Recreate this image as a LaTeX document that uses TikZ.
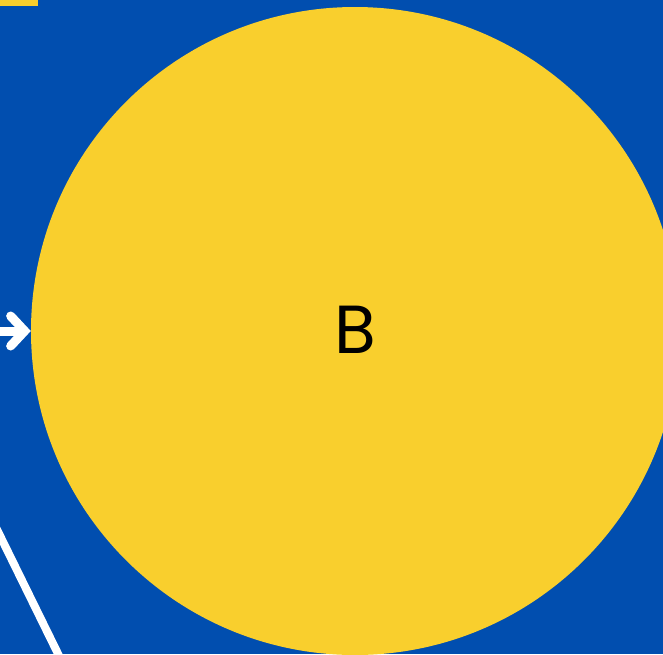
\documentclass[tikz,border=0pt]{standalone}
\usepackage{fontspec}
\setmainfont{Poppins}
\usetikzlibrary{arrows.meta,positioning}
\definecolor{DiagBlue}{HTML}{014EAF}
\definecolor{DiagYellow}{HTML}{F9CF2D}
\begin{document}
\begin{tikzpicture}[
  x=1pt,y=-1pt,
  state/.style={circle,fill=DiagYellow,minimum size=648pt,inner sep=0pt,
    font=\fontsize{68}{68}\selectfont},
  pointer/.style={-{Straight Barb[length=14pt,width=30pt,line cap=round]},
    draw=white,line width=9pt,line cap=round},
  edge/.style={draw=white,line width=8pt}
]
\useasboundingbox (0,0) rectangle (663,654);
\clip (0,0) rectangle (663,654);
\fill[DiagBlue] (0,0) rectangle (663,654);
\fill[DiagYellow] (0,0) rectangle (38,6);
\node[state] (b) at (355,331) {\raisebox{3pt}{B}};
\coordinate (arrowstart) at (-10,331);
\coordinate (linetop) at (-17.5,500);
\coordinate (linebottom) at (66,670);
\draw[pointer] (arrowstart) -- (b.west);
\draw[edge] (linetop) -- (linebottom);
\end{tikzpicture}
\end{document}
